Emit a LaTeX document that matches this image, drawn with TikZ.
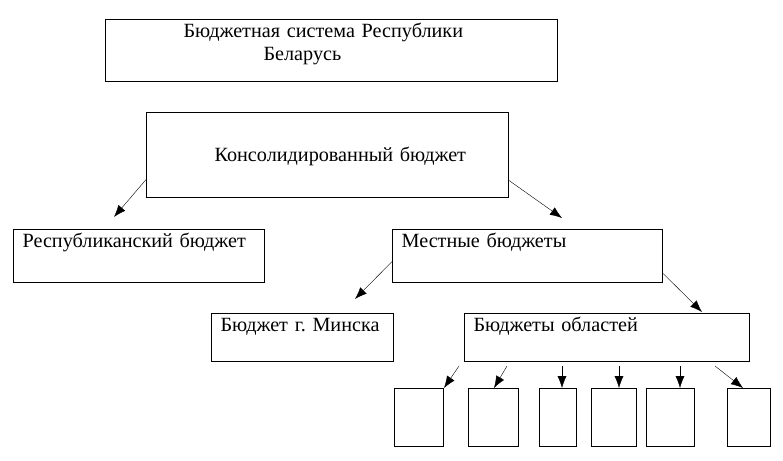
\documentclass[tikz,border=0pt]{standalone}
\usepackage{fontspec}
\setmainfont{Liberation Serif}
\usetikzlibrary{arrows.meta}
\usetikzlibrary{calc}
\usetikzlibrary{positioning}
\frenchspacing

\tikzset{
  budget/.style={draw, line width=1.2pt, anchor=north west, align=left,
    inner xsep=9pt, inner ysep=5pt, text height=13pt,
    font=\fontsize{20.2}{23}\selectfont},
  region/.style={draw, line width=1.2pt, anchor=north west, minimum height=58pt},
}

\begin{document}
\begin{tikzpicture}[x=1pt, y=-1pt, >={Latex[length=12pt,width=9pt]}]
      \useasboundingbox (0,0) rectangle (783,460);

      % top level
      \node[budget, text width=434pt, text depth=39pt] (sys) at (105,19)
        {\hspace*{69pt}Бюджетная система Республики\\\hspace*{149pt}Беларусь};
      \node[budget, text width=344pt, text height=44pt, text depth=31pt] (kons) at (146,112)
        {\hspace*{59pt}Консолидированный бюджет};

      % second level
      \node[budget, text width=233pt, text depth=30pt] (resp) at (13,229) {Республиканский бюджет};
      \node[budget, text width=252pt, text depth=30pt] (mest) at (392,229) {Местные бюджеты};

      % third level
      \node[budget, text width=164pt, text depth=25pt] (minsk) at (211,313) {Бюджет г. Минска};
      \node[budget, text width=267pt, text depth=25pt] (obl) at (464,313) {Бюджеты областей};

      % regions
      \foreach \x/\w [count=\i] in {394/49, 468/50, 539/37, 591/45, 646/48, 727/43}
        \node[region, minimum width=\w pt] (r\i) at (\x,388) {};

      \coordinate (toResp) at (114,217);
      \coordinate (toMest) at (562,218);
      \coordinate (toMinsk) at (355,299);
      \coordinate (toObl) at (702,312);

      \draw[->] ([yshift=-24.5pt]kons.west) -- (toResp);
      \draw[->] ([yshift=-25.5pt]kons.east) -- (toMest);
      \draw[->] ([yshift=-5.5pt]mest.west) -- (toMinsk);
      \draw[->] ([yshift=-17.5pt]mest.east) -- (toObl);

      \foreach \a/\b [count=\i] in {459/444, 507/494, 562/562, 619/619, 680/680, 715/743} {
        \coordinate (s\i) at (\a,366);
        \coordinate (t\i) at (\b,388);
        \draw[->] (s\i) -- (t\i);
      }
\end{tikzpicture}
\end{document}
